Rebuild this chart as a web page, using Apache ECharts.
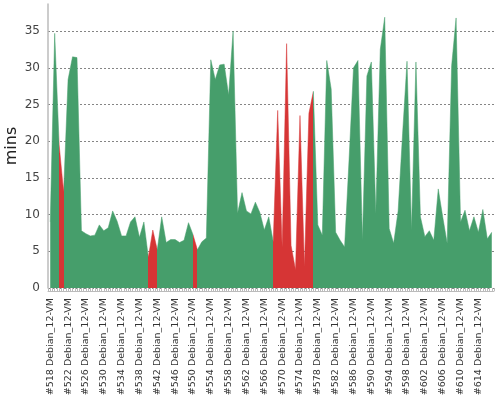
<!DOCTYPE html>
<html><head><meta charset="utf-8">
<script src="https://cdn.jsdelivr.net/npm/echarts@6/dist/echarts.min.js"></script>
<style>html,body{margin:0;padding:0;background:#fff}#c{width:500px;height:400px}</style>
</head><body><div id="c"></div>
<script>
const buildNumbers = [518,519,520,521,522,523,524,525,526,527,528,529,530,531,532,533,534,535,536,537,
  538,539,540,541,542,543,544,545,546,547,548,549,550,551,552,553,554,555,556,557,
  558,559,560,561,562,563,564,565,566,567,568,569,570,571,572,573,574,575,576,577,
  578,579,580,581,582,583,584,585,586,587,588,589,590,591,592,593,594,595,596,597,
  598,599,600,601,602,603,604,605,606,607,608,609,610,611,612,613,614,615,616,617];
const durations = [9, 34.7, 19.5, 13.1, 28.4, 31.5, 31.4, 7.8, 7.4, 7.1,
  7.2, 8.6, 7.8, 8.2, 10.5, 9.1, 7.1, 7.1, 9.0, 9.7,
  6.9, 9.0, 4.2, 7.9, 5.2, 9.7, 6.2, 6.6, 6.6, 6.2,
  6.5, 8.9, 7.3, 5.2, 6.3, 6.8, 31.1, 28.4, 30.4, 30.5,
  26.3, 35.0, 10.2, 13.0, 10.5, 10.1, 11.7, 10.3, 7.9, 9.7,
  6.3, 24.2, 5.6, 33.3, 5.8, 2.5, 23.5, 2.9, 23.8, 26.8,
  8.6, 7.2, 31.0, 27.1, 7.6, 6.5, 5.6, 17.5, 30.0, 31.0,
  6.5, 28.9, 30.8, 10.2, 32.5, 36.9, 8.1, 6.1, 10.5, 21,
  30.9, 7.9, 30.8, 9.7, 7.0, 7.8, 6.5, 13.5, 9.7, 6.1,
  30.3, 36.8, 9.0, 10.6, 7.8, 9.7, 7.6, 10.7, 6.7, 7.6];
const failedBuilds = [520, 540, 541, 550, 568, 569, 570, 571, 572, 573, 574, 575, 576];
const jobName = 'Debian_12-VM';
const yAxisName = 'mins';

const GREEN = '#469e6b', RED = '#d63535';
const categories = buildNumbers.map(n => '#' + n + ' ' + jobName);
const pieces = failedBuilds.map(b => {
  const i = buildNumbers.indexOf(b);
  return { gte: i - 0.5, lt: i + 0.5, color: RED };
});
const halfTicks = new Array(buildNumbers.length * 2).fill('');

const chart = echarts.init(document.getElementById('c'), null, { renderer: 'canvas' });
chart.setOption({
  animation: false,
  backgroundColor: '#fff',
  textStyle: { fontFamily: 'DejaVu Sans' },
  grid: { left: 48, right: 6, top: 4, bottom: 112, containLabel: false, outerBoundsMode: 'none' },
  visualMap: {
    type: 'piecewise', show: false, dimension: 0, seriesIndex: 0,
    pieces: pieces, outOfRange: { color: GREEN }
  },
  xAxis: [{
    type: 'category', data: categories, boundaryGap: true, position: 'bottom', offset: 3,
    axisLine: { onZero: false, lineStyle: { color: '#bbb', width: 1 } },
    axisTick: { show: false },
    axisLabel: { interval: 3, rotate: 90, fontSize: 9.5, color: '#333', margin: 7, fontFamily: 'DejaVu Sans' },
    splitLine: { show: false }
  }, {
    type: 'category', data: halfTicks, boundaryGap: true, position: 'bottom', offset: 3,
    axisLine: { show: false },
    axisTick: { show: true, interval: 0, length: 3, lineStyle: { color: '#bbb' } },
    axisLabel: { show: false }, splitLine: { show: false }
  }],
  yAxis: {
    type: 'value', min: 0, max: 38.7, interval: 5,
    name: yAxisName, nameLocation: 'middle', nameGap: 28, nameMoveOverlap: false,
    nameTextStyle: { fontSize: 16, color: '#222', fontFamily: 'DejaVu Sans' },
    axisLine: { show: true, lineStyle: { color: '#bbb', width: 1.5 } },
    axisTick: { show: false },
    axisLabel: { fontSize: 12, color: '#444', margin: 8, showMaxLabel: false, fontFamily: 'DejaVu Sans' },
    splitLine: { show: true, showMaxLine: false, lineStyle: { color: '#666', type: [2, 2], width: 0.8 } }
  },
  series: [{
    type: 'line', xAxisIndex: 0, data: durations, showSymbol: false, symbol: 'none',
    lineStyle: { width: 0.5 }, areaStyle: { opacity: 1 }
  }]
});
</script></body></html>
